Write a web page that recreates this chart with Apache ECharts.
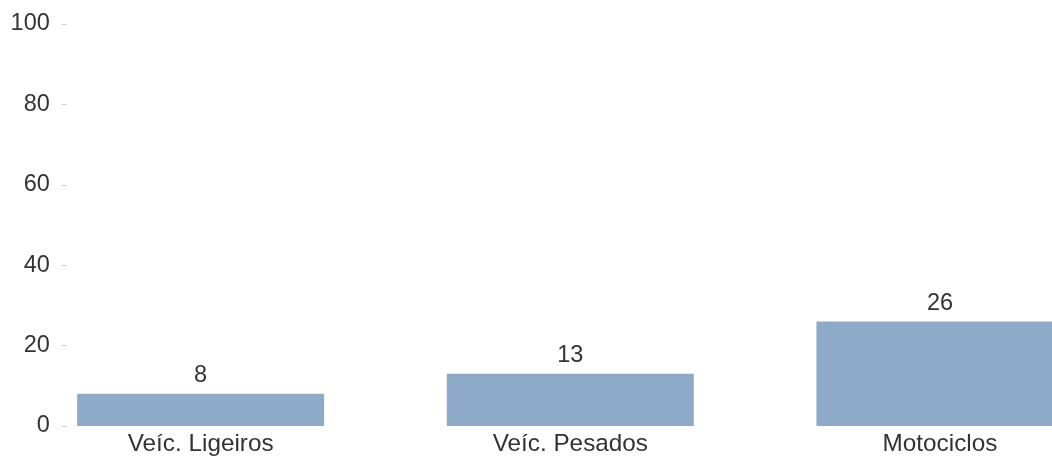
<!DOCTYPE html>
<html>
<head>
<meta charset="utf-8">
<script src="https://cdn.jsdelivr.net/npm/echarts@6/dist/echarts.min.js"></script>
<style>
html,body{margin:0;padding:0;background:#fff;}
#chart{width:1052px;height:457px;}
</style>
</head>
<body>
<div id="chart"></div>
<script>
const categories = ['Veíc. Ligeiros', 'Veíc. Pesados', 'Motociclos'];
const values = [8, 13, 26];
const yTicks = [0, 20, 40, 60, 80, 100];

const chart = echarts.init(document.getElementById('chart'));
const font = 'Arial, "Liberation Sans", sans-serif';
chart.setOption({
  animation: false,
  grid: { left: 15.8, top: 24, width: 1109, height: 402, containLabel: false, outerBoundsMode: 'none' },
  xAxis: {
    type: 'category',
    data: categories,
    axisLine: { show: false },
    axisTick: { show: false },
    axisLabel: { color: '#333', fontSize: 24.3, fontFamily: font, margin: 6 }
  },
  yAxis: {
    type: 'value',
    min: yTicks[0],
    max: yTicks[yTicks.length - 1],
    interval: 20,
    offset: -51,
    axisLine: { show: false },
    axisTick: { show: true, length: 5, lineStyle: { color: '#d0d0d0' } },
    splitLine: { show: false },
    axisLabel: { color: '#333', fontSize: 23.5, fontFamily: font, margin: 17 }
  },
  series: [{
    type: 'bar',
    data: values,
    barWidth: 247,
    itemStyle: { color: '#8eaac9' },
    label: { show: true, position: 'top', distance: 6, color: '#333', fontSize: 23.5, fontFamily: font }
  }]
});
</script>
</body>
</html>
